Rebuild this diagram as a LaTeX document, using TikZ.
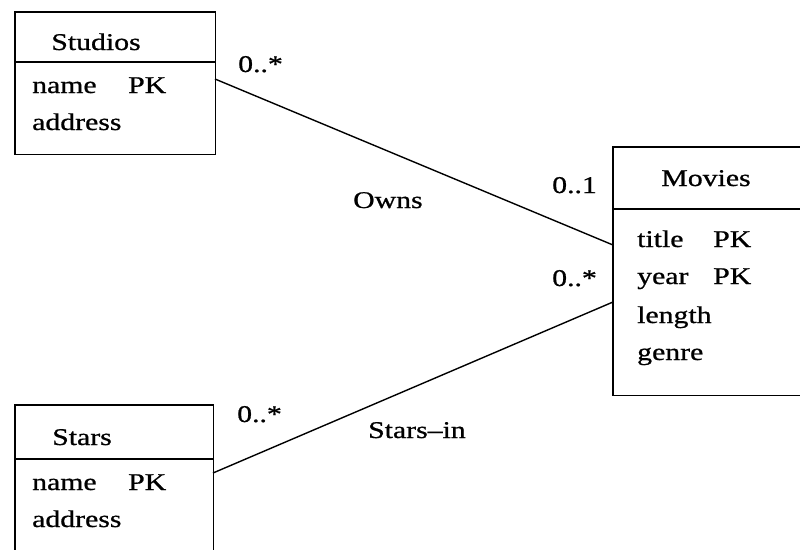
\documentclass[tikz,border=0pt]{standalone}
\usepackage{fontspec}
\usepackage{graphicx}
\setmainfont{Liberation Serif}[RawFeature={embolden=0.7}]
\newcommand{\widetext}[1]{\scalebox{1.24}[1]{#1}}
\tikzset{
  classbox/.style={draw=none, rectangle, inner sep=0pt, anchor=north west},
  edge/.style={line width=1.4pt, line cap=rect},
  link/.style={line width=1.4pt},
  txt/.style={inner sep=0pt, anchor=base west, font=\fontsize{24}{28}\selectfont},
  ctxt/.style={inner sep=0pt, anchor=base, font=\fontsize{24}{28}\selectfont},
}
\begin{document}
\begin{tikzpicture}[x=1pt,y=-1pt]
\clip (0,0) rectangle (800,549);
\fill[white] (0,0) rectangle (800,549);

% class frames
\node[classbox, minimum width=200pt, minimum height=142pt] (studios) at (15,12) {};
\node[classbox, minimum width=198pt, minimum height=160pt] (stars) at (15,405) {};
\node[classbox, minimum width=200pt, minimum height=248pt] (movies) at (613,147) {};

% Studios
\draw[edge] (studios.north west) rectangle (studios.south east);
\draw[edge] (15,62) -- (215,62);
% Stars (runs past the lower edge)
\draw[edge] (stars.south west) -- (stars.north west) -- (stars.north east) -- (stars.south east);
\draw[edge] (15,459) -- (213,459);
% Movies (runs past the right edge)
\draw[edge] (movies.north east) -- (movies.north west) -- (movies.south west) -- (movies.south east);
\draw[edge] (613,209) -- (813,209);

% attachment points
\coordinate (sOut) at (215,79);
\coordinate (mOwn) at (613,245);
\coordinate (mStar) at (613,302);
\coordinate (tOut) at (213,473);

% associations
\draw[link] (sOut) -- (mOwn);
\draw[link] (tOut) -- (mStar);

% class texts
\node[ctxt] (studiosT) at (96,50) {\widetext{Studios}};
\node[txt] (sName) at (32,93) {\widetext{name}};
\node[txt] (sPK) at (128,93) {\widetext{PK}};
\node[txt] (sAddr) at (32,130) {\widetext{address}};

\node[ctxt] (starsT) at (82,445) {\widetext{Stars}};
\node[txt] (tName) at (32,490) {\widetext{name}};
\node[txt] (tPK) at (128,490) {\widetext{PK}};
\node[txt] (tAddr) at (32,527) {\widetext{address}};

\node[ctxt] (moviesT) at (706,186) {\widetext{Movies}};
\node[txt] (mTitle) at (637,247) {\widetext{title}};
\node[txt] (mPK1) at (713,247) {\widetext{PK}};
\node[txt] (mYear) at (637,284) {\widetext{year}};
\node[txt] (mPK2) at (713,284) {\widetext{PK}};
\node[txt] (mLen) at (637,323) {\widetext{length}};
\node[txt] (mGenre) at (637,360) {\widetext{genre}};

% multiplicities and association names
\node[txt] (m1) at (238,72) {\widetext{0..*}};
\node[txt] (m2) at (552,193) {\widetext{0..1}};
\node[txt] (m3) at (552,286) {\widetext{0..*}};
\node[txt] (m4) at (237,422) {\widetext{0..*}};
\node[txt] (owns) at (353,208) {\widetext{Owns}};
\node[txt] (starsin) at (368,438) {\widetext{Stars--in}};
\end{tikzpicture}
\end{document}
